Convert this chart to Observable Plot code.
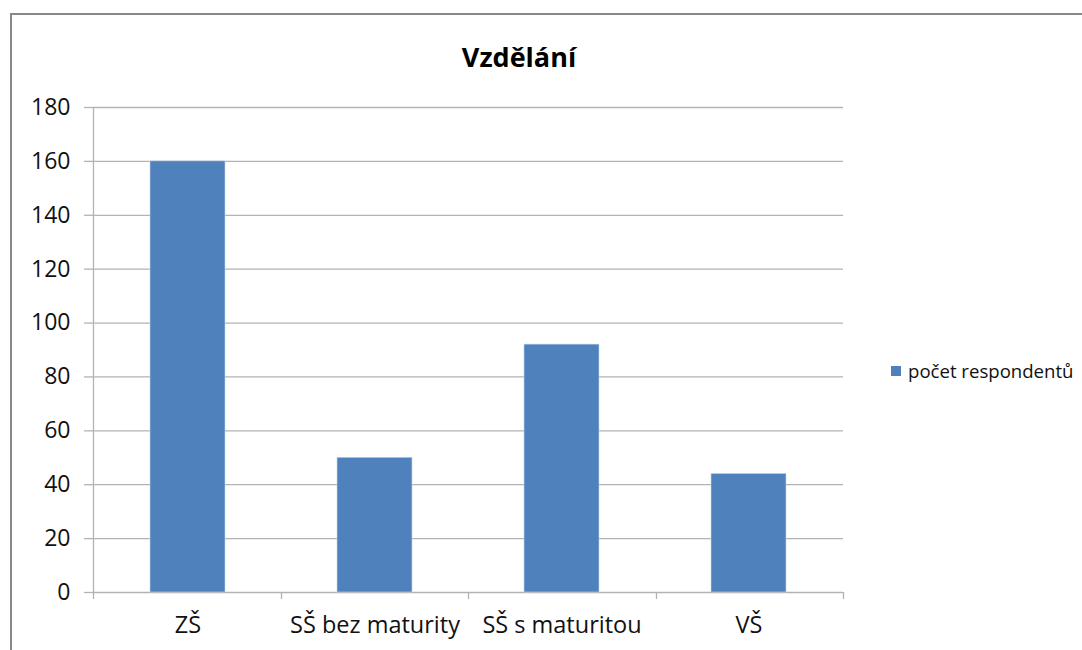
<!DOCTYPE html>
<html><head><meta charset="utf-8">
<script src="https://cdn.jsdelivr.net/npm/d3@7"></script>
<script src="https://cdn.jsdelivr.net/npm/@observablehq/plot@0.6"></script>
<style>
html,body{margin:0;padding:0;background:#fff;}
#wrap{position:relative;width:1082px;height:650px;overflow:hidden;font-family:"Open Sans",Lato,sans-serif;}
#frame{position:absolute;left:10px;top:13px;width:1100px;height:700px;border-top:2px solid #888;border-left:2px solid #888;box-sizing:border-box;}
#title{position:absolute;left:0;top:38px;width:1038px;text-align:center;font-weight:bold;font-size:27px;color:#000;}
#legend{position:absolute;left:891px;top:358px;font-size:18.6px;color:#111;display:flex;align-items:center;white-space:nowrap;}
#legend span.sw{display:inline-block;width:10px;height:10px;background:#4f81bd;margin-right:7px;}
#chart{position:absolute;left:0;top:0;}
</style></head>
<body><div id="wrap"><div id="frame"></div><div id="chart"></div><div id="title">Vzdělání</div><div id="legend"><span class="sw"></span><span id="legtext"></span></div></div>
<script>
const title = "Vzdělání";
const seriesName = "počet respondentů";
const categories = ["ZŠ", "SŠ bez maturity", "SŠ s maturitou", "VŠ"];
const values = [160, 50, 92, 44];
const yTicks = [0, 20, 40, 60, 80, 100, 120, 140, 160, 180];

const data = categories.map((c, i) => ({cat: c, value: values[i]}));
document.getElementById("title").textContent = title;
document.getElementById("legtext").textContent = seriesName;

const grid = "#b3b3b3";
const boundaryTicks = (index, scales, values, dims) => {
  const g = d3.create("svg:g");
  const x0 = dims.marginLeft, x1 = dims.width - dims.marginRight;
  const y0 = dims.height - dims.marginBottom;
  const n = categories.length;
  for (let i = 0; i <= n; i++) {
    const x = Math.round(x0 + (x1 - x0) * i / n) + 0.5;
    g.append("line").attr("x1", x).attr("x2", x).attr("y1", y0).attr("y2", y0 + 7)
      .attr("stroke", grid).attr("stroke-width", 1.3);
  }
  return g.node();
};

const chart = Plot.plot({
  width: 1082, height: 650,
  marginLeft: 93, marginRight: 239, marginTop: 107, marginBottom: 58,
  style: {fontFamily: "'Open Sans', Lato, sans-serif", fontSize: "23px", color: "#111", background: "transparent"},
  x: {domain: categories, paddingInner: 0.6, paddingOuter: 0.3, label: null},
  y: {domain: [0, 180], label: null},
  marks: [
    Plot.ruleY(yTicks, {stroke: grid, strokeWidth: 1.3}),
    Plot.barY(data, {x: "cat", y: "value", fill: "#4f81bd", stroke: "#c6d5ea", strokeWidth: 0.6}),
    Plot.axisY({ticks: yTicks, tickSize: 9, tickPadding: 14, stroke: grid, strokeWidth: 1.3, fontSize: 23, label: null}),
    Plot.axisX({tickSize: 0, tickPadding: 24, fontSize: 23.5, label: null}),
    boundaryTicks,
    (index, scales, values, dims) => {
      const g = d3.create("svg:g");
      const x = dims.marginLeft + 0.5;
      g.append("line").attr("x1", x).attr("x2", x)
        .attr("y1", scales.y(180)).attr("y2", scales.y(0))
        .attr("stroke", grid).attr("stroke-width", 1.3);
      return g.node();
    }
  ]
});
document.getElementById("chart").appendChild(chart);
</script>
</body></html>
